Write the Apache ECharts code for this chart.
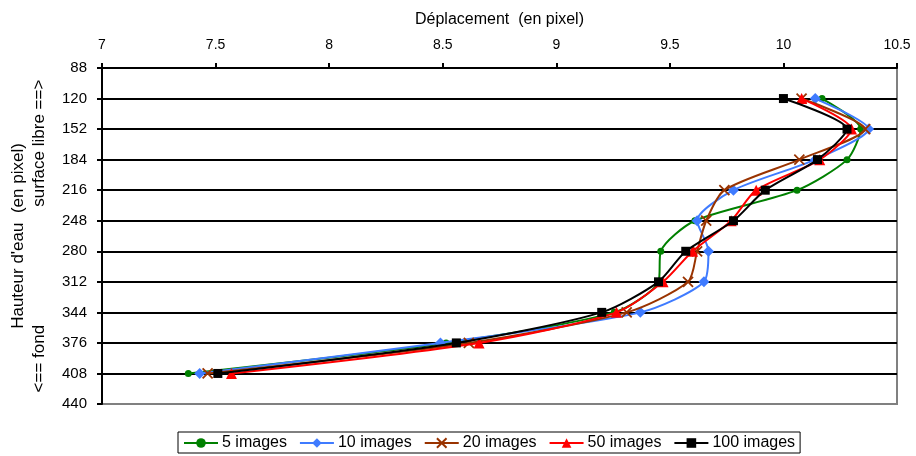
<!DOCTYPE html>
<html>
<head>
<meta charset="utf-8">
<script src="https://cdn.jsdelivr.net/npm/echarts@6/dist/echarts.min.js"></script>
<style>
html,body{margin:0;padding:0;background:#fff;}
#chart{width:916px;height:456px;}
</style>
</head>
<body>
<div id="chart"></div>
<script>
// Water heights (pixel), y axis (inverted)
const heights = [120, 152, 184, 216, 248, 280, 312, 344, 376, 408];
// Displacement (pixel) per series
const s5   = [10.17, 10.34, 10.28, 10.06, 9.61, 9.46, 9.45, 9.255, 8.515, 7.38];
const s10  = [10.14, 10.375, 10.14, 9.78, 9.62, 9.67, 9.65, 9.37, 8.49, 7.43];
const s20  = [10.08, 10.36, 10.07, 9.74, 9.66, 9.62, 9.58, 9.31, 8.615, 7.465];
const s50  = [10.08, 10.30, 10.16, 9.88, 9.77, 9.60, 9.47, 9.265, 8.66, 7.57];
const s100 = [10.00, 10.28, 10.15, 9.92, 9.78, 9.57, 9.45, 9.20, 8.56, 7.51];
const seriesNames = ['5 images', '10 images', '20 images', '50 images', '100 images'];
const xTicks = [7, 7.5, 8, 8.5, 9, 9.5, 10, 10.5];
const yTicks = [88, 120, 152, 184, 216, 248, 280, 312, 344, 376, 408, 440];

const FONT = '"Liberation Sans", Arial, sans-serif';
const colors = ['#008000', '#3F7BFF', '#993300', '#FF0000', '#000000'];
const symbols = ['circle', 'diamond', 'path://M0,0L10,10M10,0L0,10', 'triangle', 'rect'];
const sizes = [7, 11, 10, 11, 9];
const allData = [s5, s10, s20, s50, s100];

const series = allData.map((arr, i) => ({
  name: seriesNames[i],
  type: 'line',
  data: arr.map((v, k) => [v, heights[k]]),
  smooth: 0.25,
  symbol: symbols[i],
  symbolSize: sizes[i],
  showAllSymbol: true,
  lineStyle: { color: colors[i], width: 2 },
  itemStyle: { color: colors[i], borderColor: colors[i], borderWidth: i === 2 ? 1.8 : 0 },
  z: 2 + i
}));

const chart = echarts.init(document.getElementById('chart'), null, { renderer: 'canvas' });
chart.setOption({
  animation: false,
  backgroundColor: '#ffffff',
  textStyle: { fontFamily: FONT, color: '#000' },
  grid: { left: 97, right: 19, top: 68, bottom: 52, show: true, borderColor: '#808080', borderWidth: 2, backgroundColor: 'transparent' },
  legend: {
    data: seriesNames,
    left: 178,
    top: 432,
    itemWidth: 34,
    itemHeight: 12,
    itemGap: 12,
    padding: [3, 5, 2, 5],
    borderColor: '#000',
    borderWidth: 1,
    borderRadius: 0,
    textStyle: { fontFamily: FONT, fontSize: 16, color: '#000', padding: [0, 0, 0, -1] }
  },
  xAxis: {
    type: 'value',
    position: 'top',
    min: xTicks[0],
    max: xTicks[xTicks.length - 1],
    interval: 0.5,
    name: 'Déplacement  (en pixel)',
    nameLocation: 'middle',
    nameGap: 40,
    nameTextStyle: { fontFamily: FONT, fontSize: 16, color: '#000' },
    axisLine: { show: true, onZero: false, lineStyle: { color: '#000', width: 2 } },
    axisTick: { show: true, inside: false, length: 5, lineStyle: { color: '#000', width: 2 } },
    axisLabel: { fontFamily: FONT, fontSize: 14, color: '#000', margin: 16 },
    splitLine: { show: false }
  },
  yAxis: {
    type: 'value',
    inverse: true,
    min: yTicks[0],
    max: yTicks[yTicks.length - 1],
    interval: 32,
    name: "Hauteur d'eau  (en pixel)\n<== fond                         surface libre ==>",
    nameLocation: 'middle',
    nameRotate: 90,
    nameGap: 52,
    nameTextStyle: { fontFamily: FONT, fontSize: 17, lineHeight: 21, color: '#000', align: 'center' },
    axisLine: { show: true, onZero: false, lineStyle: { color: '#000', width: 2 } },
    axisTick: { show: true, inside: false, length: 5, lineStyle: { color: '#000', width: 2 } },
    axisLabel: { fontFamily: FONT, fontSize: 15, color: '#000', margin: 15 },
    splitLine: { show: true, lineStyle: { color: ['#000','#000','#000','#000','#000','#000','#000','#000','#000','#000','#000','#808080'], width: 2 } }
  },
  series: series
});
</script>
</body>
</html>
